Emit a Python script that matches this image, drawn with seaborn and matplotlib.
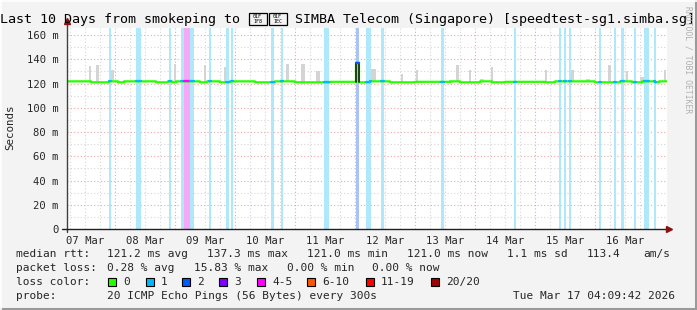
import numpy as np
import pandas as pd
import matplotlib
matplotlib.use("Agg")
import matplotlib.pyplot as plt
from matplotlib.lines import Line2D
from matplotlib.patches import Rectangle
import seaborn as sns

# ---------------- data ----------------
day_labels = ["07 Mar", "08 Mar", "09 Mar", "10 Mar", "11 Mar",
              "12 Mar", "13 Mar", "14 Mar", "15 Mar", "16 Mar"]
y_tick_values = [0, 20, 40, 60, 80, 100, 120, 140, 160]
y_tick_labels = ["0", "20 m", "40 m", "60 m", "80 m", "100 m", "120 m", "140 m", "160 m"]

# hours since 07 Mar 00:00
view_start_hour = 4.8
view_end_hour = 244.8

median_change_hours = [4.8, 14.4, 21.6, 25.2, 27.6, 40.4, 45.2, 47.0, 48.5, 58.0,
                       61.0, 66.0, 70.0, 80.0, 88.0, 96.0, 110.0, 120.4, 121.6, 126.0,
                       134.0, 144.0, 158.0, 162.0, 170.0, 175.0, 180.0, 196.0, 200.0,
                       216.0, 226.0, 231.0, 235.0, 240.0, 241.6]
median_ms = [121.8, 121.0, 121.8, 121.0, 121.8, 121.0, 121.8, 121.0, 121.8, 121.0,
             121.8, 121.0, 121.8, 121.0, 121.8, 121.0, 121.4, 137.3, 121.0, 121.8,
             121.0, 121.4, 121.8, 121.0, 121.8, 121.0, 121.4, 121.0, 121.8,
             121.0, 121.8, 121.0, 121.8, 121.0, 121.8]

loss_start_hours = [21.6, 32.4, 45.6, 50.4, 51.6, 54.0, 61.6, 68.4, 70.4, 86.4,
                    90.4, 107.6, 120.4, 124.4, 130.4, 154.4, 183.6, 201.6, 203.6, 205.6,
                    217.6, 223.6, 226.4, 231.6, 235.6, 239.6]
loss_end_hours = [22.4, 34.4, 46.4, 51.6, 54.0, 55.6, 62.4, 69.6, 71.2, 87.6,
                  91.2, 109.6, 121.6, 126.4, 131.6, 155.6, 184.4, 202.4, 204.4, 206.4,
                  218.4, 224.4, 227.6, 232.4, 237.6, 240.4]
loss_counts = [1, 1, 1, 1, 4, 1, 1, 1, 1, 1,
               1, 1, 2, 1, 1, 1, 1, 1, 1, 1,
               1, 1, 1, 1, 1, 1]

smoke_start_hours = [13.6, 16.4, 22.4, 47.6, 59.6, 67.6, 92.4, 98.4, 104.4, 126.4,
                     138.4, 144.4, 160.4, 165.6, 170.0, 174.4, 196.0, 206.4, 212.4,
                     221.2, 228.4, 234.0, 243.6]
smoke_end_hours = [14.4, 17.6, 23.6, 48.4, 60.4, 68.4, 93.6, 100.0, 106.0, 128.4,
                   139.2, 145.2, 161.6, 166.4, 171.6, 175.2, 196.8, 207.6, 214.0,
                   222.4, 229.2, 235.6, 244.4]
smoke_top_ms = [134.7, 135.0, 131.0, 136.0, 135.0, 134.0, 136.0, 136.0, 130.6, 132.0,
                128.0, 131.0, 135.0, 131.0, 124.0, 134.0, 131.0, 131.0, 124.0,
                135.0, 130.0, 125.0, 131.0]

legend_loss_labels = ["0", "1", "2", "3", "4-5", "6-10", "11-19", "20/20"]
legend_loss_colors = ["#26ff00", "#00b8ff", "#0059ff", "#7e00ff",
                      "#ff00ff", "#ff5500", "#ff0000", "#a10000"]

title_left = "Last 10 Days from smokeping to "
title_flag_codes = ["01F\n1F8", "01F\n1EC"]   # 🇸🇬 (no installed font has these glyphs)
title_right = " SIMBA Telecom (Singapore) [speedtest-sg1.simba.sg]"

# ---------------- styling ----------------
W, H = 697, 310
sns.set_style("white")
plt.rcParams["font.family"] = ["DejaVu Sans Mono", "DejaVu Sans"]
BG = "#f3f3f3"

def fx(px):
    return px / W

def fy(py):
    return 1 - py / H

line_color_for_loss = {0: "#26ff00", 1: "#00b8ff", 2: "#0059ff", 3: "#7e00ff", 4: "#ff00ff"}
stripe_color_for_loss = {1: "#aee8fa", 2: "#a9c2f7", 3: "#c8a8fa", 4: "#f6a8f6"}

fig = plt.figure(figsize=(W / 100, H / 100), dpi=100)
fig.patch.set_facecolor(BG)

X0, X1, YT, YB = 67, 667, 28, 229
ax = fig.add_axes([fx(X0), fy(YB), (X1 - X0) / W, (YB - YT) / H])
ax.set_facecolor("white")
ax.set_xlim(view_start_hour, view_end_hour)
ax.set_ylim(0, 165.8)

# grid
for v in np.arange(10, 166, 10):
    major = (int(v) % 20 == 0)
    ax.axhline(v, color="#f2a6a6" if major else "#d6d6d6", lw=0.8,
               ls=(0, (1, 2)), zorder=0.5)
for h in np.arange(6, view_end_hour, 6):
    if h < view_start_hour:
        continue
    major = (int(h) % 24 == 0)
    ax.axvline(h, color="#f2a6a6" if major else "#d6d6d6", lw=0.8,
               ls=(0, (1, 2)), zorder=0.5)

# loss stripes
for s, e, c in zip(loss_start_hours, loss_end_hours, loss_counts):
    ax.axvspan(s, e, color=stripe_color_for_loss[c], lw=0, zorder=1)

# smoke
smoke = pd.DataFrame({"start": smoke_start_hours, "end": smoke_end_hours, "top": smoke_top_ms})
ax.bar(smoke["start"], smoke["top"] - 121.0, bottom=121.0,
       width=smoke["end"] - smoke["start"], align="edge",
       color="#d4d4d4", lw=0, zorder=2)

# dense step series of median + loss
step = 0.4
edges = np.arange(view_start_hour, view_end_hour + step / 2, step)
centers = (edges[:-1] + edges[1:]) / 2
idx = np.searchsorted(median_change_hours, centers, side="right") - 1
vals = np.array(median_ms)[np.clip(idx, 0, None)]
loss = np.zeros(len(centers), dtype=int)
for s, e, c in zip(loss_start_hours, loss_end_hours, loss_counts):
    loss[(centers > s) & (centers < e)] = c

x_full = np.append(edges[:-1], edges[-1])
y_full = np.append(vals, vals[-1])
sns.lineplot(x=x_full, y=y_full, drawstyle="steps-post", color="#26ff00",
             lw=1.6, estimator=None, ax=ax, legend=False, zorder=4)

i = 0
n = len(centers)
while i < n:
    j = i
    while j < n and loss[j] == loss[i]:
        j += 1
    if loss[i] > 0:
        xs = np.append(edges[i:j], edges[j])
        ys = np.append(vals[i:j], vals[j - 1])
        if i > 0 and abs(vals[i] - vals[i - 1]) > 2:
            ax.plot([edges[i], edges[i]], [vals[i - 1], vals[i]], color="#202020", lw=1.2, zorder=4.5)
        if j < n and abs(vals[j] - vals[j - 1]) > 2:
            ax.plot([edges[j], edges[j]], [vals[j - 1], vals[j]], color="#202020", lw=1.2, zorder=4.5)
        sns.lineplot(x=xs, y=ys, drawstyle="steps-post", color=line_color_for_loss[loss[i]],
                     lw=1.6, estimator=None, ax=ax, legend=False, zorder=5)
    i = j

# axes / ticks
for sp in ax.spines.values():
    sp.set_visible(False)
ax.set_yticks(y_tick_values)
ax.set_yticklabels(y_tick_labels)
ax.set_xticks([12 + 24 * k for k in range(len(day_labels))])
ax.set_xticklabels(day_labels)
ax.tick_params(axis="y", length=3, width=0.8, color="#555555", labelsize=7.6, pad=3, direction="out")
ax.tick_params(axis="x", length=0, labelsize=7.6, pad=5)
ax.set_xlabel("")
ax.set_ylabel("")

fig.add_artist(Line2D([fx(X0), fx(X0)], [fy(YB + 3), fy(22)], color="#404040", lw=1.0))
fig.add_artist(Line2D([fx(62), fx(668)], [fy(YB), fy(YB)], color="#202020", lw=1.0))
fig.add_artist(Line2D([fx(X0)], [fy(21)], marker="^", color="#8b1010", markersize=5, lw=0))
fig.add_artist(Line2D([fx(669)], [fy(YB)], marker=">", color="#8b1010", markersize=5, lw=0))

# ---------------- title with missing-glyph boxes ----------------
renderer = fig.canvas.get_renderer()
TFS = 9.62
t1 = fig.text(fx(0.0), fy(19), title_left, fontsize=TFS, ha="left", va="center", color="black")
bb = t1.get_window_extent(renderer)
bx = bb.x1 + 0.5
for code in title_flag_codes:
    fig.add_artist(Rectangle((fx(bx), fy(24.5)), 18 / W, 11 / H, facecolor="none",
                             edgecolor="black", lw=0.9, transform=fig.transFigure))
    fig.text(fx(bx + 9), fy(19), code, fontsize=3.6, ha="center", va="center",
             linespacing=0.95, color="black")
    bx += 20
fig.text(fx(bx - 1.5), fy(19), title_right, fontsize=TFS, ha="left", va="center", color="black")

fig.text(fx(10), fy(127), "Seconds", rotation=90, fontsize=7.8, ha="center", va="center")
fig.text(fx(688), fy(6), "RRDTOOL / TOBI OETIKER", rotation=270, fontsize=5.8,
         ha="center", va="top", color="#b0b0b0")

fs = 8.0
row1 = [(16, "median rtt:"), (107, "121.2 ms avg"), (207, "137.3 ms max"), (307, "121.0 ms min"),
        (407, "121.0 ms now"), (507, "1.1 ms sd"), (587, "113.4"), (643, "am/s")]
row2 = [(16, "packet loss:"), (107, "0.28 % avg"), (194, "15.83 % max"), (287, "0.00 % min"),
        (372, "0.00 % now")]
for xpx, t in row1:
    fig.text(fx(xpx), fy(254), t, fontsize=fs, ha="left", va="center")
for xpx, t in row2:
    fig.text(fx(xpx), fy(268), t, fontsize=fs, ha="left", va="center")
fig.text(fx(16), fy(282), "loss color:", fontsize=fs, ha="left", va="center")
box_x = [108, 146, 182, 219, 257, 307, 366, 431]
for bxx, lab, col in zip(box_x, legend_loss_labels, legend_loss_colors):
    fig.add_artist(Rectangle((fx(bxx), fy(286)), 8 / W, 8 / H, facecolor=col,
                             edgecolor="black", lw=0.8, transform=fig.transFigure))
    fig.text(fx(bxx + 15), fy(282), lab, fontsize=fs, ha="left", va="center")
fig.text(fx(16), fy(296), "probe:", fontsize=fs, ha="left", va="center")
fig.text(fx(107), fy(296), "20 ICMP Echo Pings (56 Bytes) every 300s", fontsize=fs, ha="left", va="center")
fig.text(fx(513), fy(296), "Tue Mar 17 04:09:42 2026", fontsize=fs, ha="left", va="center")

# frame
fig.add_artist(Line2D([0, 1], [fy(309), fy(309)], color="#9a9a9a", lw=2.2))
fig.add_artist(Line2D([fx(696), fx(696)], [0, 1], color="#9a9a9a", lw=2.2))
fig.add_artist(Line2D([0, 1], [fy(0.5), fy(0.5)], color="#ffffff", lw=1.2))
fig.add_artist(Line2D([fx(0.5), fx(0.5)], [0, 1], color="#ffffff", lw=1.2))

fig.savefig("out.png", dpi=100, facecolor=BG)
